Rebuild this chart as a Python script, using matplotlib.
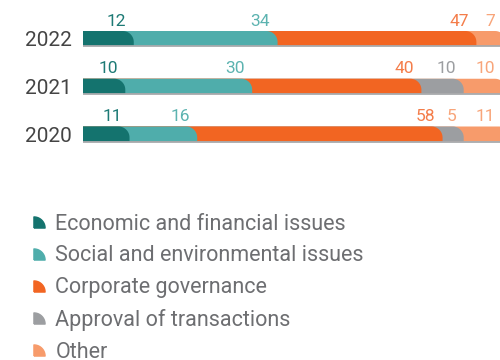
import numpy as np
import matplotlib.pyplot as plt
from matplotlib.path import Path
from matplotlib.patches import PathPatch
from matplotlib.lines import Line2D

plt.rcParams['font.family'] = ['Roboto', 'DejaVu Sans']

years = ['2020', '2021', '2022']
categories = ['Economic and financial issues', 'Social and environmental issues',
              'Corporate governance', 'Approval of transactions', 'Other']
values = {
    'Economic and financial issues': [11, 10, 12],
    'Social and environmental issues': [16, 30, 34],
    'Corporate governance': [58, 40, 47],
    'Approval of transactions': [5, 10, 0],
    'Other': [11, 10, 7],
}
colors = ['#14736e', '#4fadab', '#f26522', '#9c9ea1', '#f79b6b']
label_colors = ['#1d7a75', '#5cb3b0', '#f47d4a', '#9c9ea1', '#f8a57a']

W, H, DPI = 500, 360, 100
fig = plt.figure(figsize=(W / DPI, H / DPI), dpi=DPI)

# axes in pixel terms (the right end runs a little past the image, as in the original)
ax_left, ax_right, ax_top, ax_bot = 83, 506, 0, 170
ax = fig.add_axes([ax_left / W, 1 - ax_bot / H, (ax_right - ax_left) / W, (ax_bot - ax_top) / H])
row_px = 47.75
ax.set_xlim(0, 100)
ax.set_ylim(-(ax_bot - 134) / row_px, 2 + 38.5 / row_px)

px_x = (ax_right - ax_left) / 100
px_y = row_px
bar_h = 15 / px_y
r = 11
rx, ry = r / px_x, r / px_y
label_max = (495 - ax_left) / px_x  # keep the last labels inside the image


def seg_path(x1, yb, yt):
    t = np.linspace(0, np.pi / 2, 20)
    cx, cy = x1 - rx, yt - ry
    arc = np.column_stack([cx + rx * np.cos(t), cy + ry * np.sin(t)])
    verts = np.vstack([[0, yb], [x1, yb], arc, [0, yt], [0, yb]])
    return Path(verts)


for i, y in enumerate(years):
    yb, yt = i - bar_h / 2, i + bar_h / 2
    cum = 0
    ends = []
    for k, c in enumerate(categories):
        cum += values[c][i]
        ends.append(cum)
    for k, c in enumerate(categories):
        v = values[c][i]
        if v == 0:
            continue
        ax.add_patch(PathPatch(seg_path(ends[k], yb, yt), facecolor=colors[k],
                               edgecolor='none', zorder=10 - k))
        lc = label_colors[k]
        if c == 'Approval of transactions' and y == '2020':
            lc = label_colors[4]
        ax.text(min(ends[k] - 7.5 / px_x, label_max), yt + 2.5 / px_y, str(v),
                ha='right', va='bottom', fontsize=12.5, color=lc, zorder=20)
    ax.plot([0, 100], [yb, yb], color='#a8aaad', lw=1.3, zorder=15, solid_capstyle='butt')

ax.set_yticks(range(len(years)))
ax.set_yticklabels(years, fontsize=15, color='#444444')
ax.tick_params(axis='y', length=0, pad=8)
ax.set_xticks([])
for s in ax.spines.values():
    s.set_visible(False)

# quarter-circle legend marker
t = np.linspace(np.pi / 2, 0, 20)
qverts = np.vstack([[-1, -1], np.column_stack([-1 + 2 * np.cos(t), -1 + 2 * np.sin(t)]), [-1, -1]])
qmark = Path(qverts)
handles = [Line2D([], [], marker=qmark, color=colors[k], linestyle='none', markersize=8)
           for k in range(len(categories))]
fig.legend(handles, categories, loc='upper left', bbox_to_anchor=(22 / W, 1 - 205 / H),
           frameon=False, fontsize=15.5, labelcolor='#6d6e71', labelspacing=0.5,
           handletextpad=0.35, handlelength=0.8, borderaxespad=0)

fig.savefig('out.png', dpi=DPI)
